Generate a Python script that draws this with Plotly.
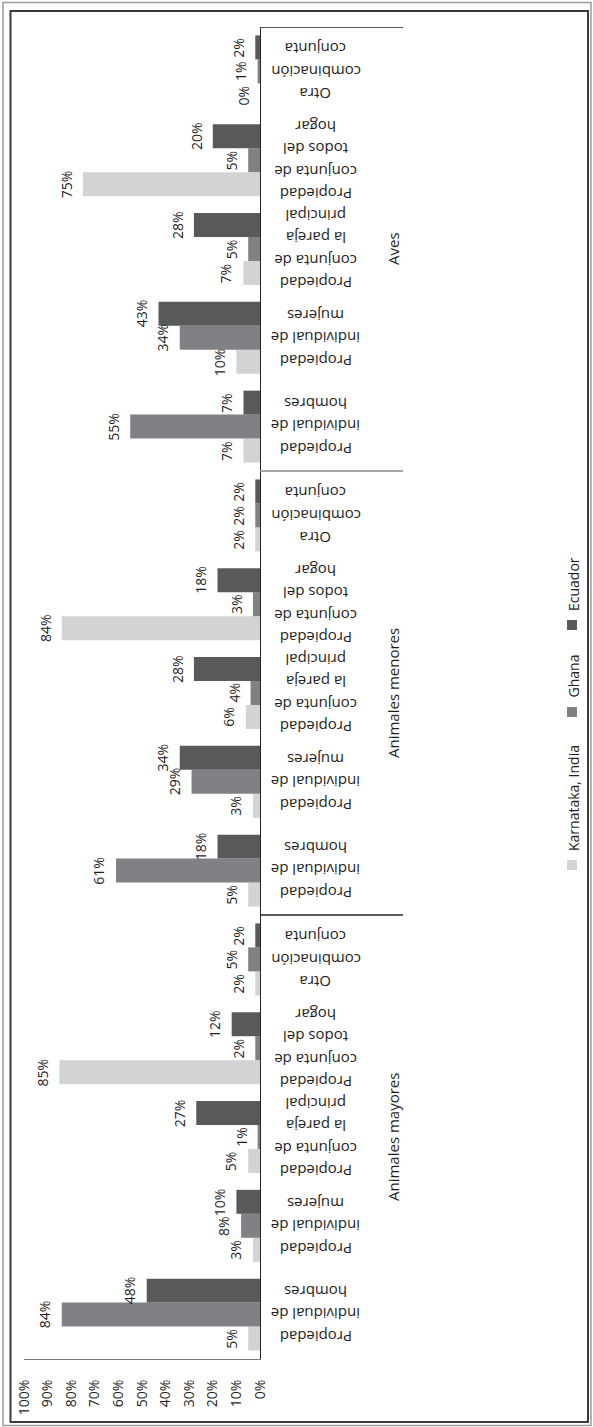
import plotly.graph_objects as go

# ---- data -------------------------------------------------------------
groups = ["Animales mayores", "Animales menores", "Aves"]
category_lines = [
    ["Propiedad", "individual de", "hombres"],
    ["Propiedad", "individual de", "mujeres"],
    ["Propiedad", "conjunta de", "la pareja", "principal"],
    ["Propiedad", "conjunta de", "todos del", "hogar"],
    ["Otra", "combinación", "conjunta"],
]
series_names = ["Karnataka, India", "Ghana", "Ecuador"]
karnataka = [5, 3, 5, 85, 2, 5, 3, 6, 84, 2, 7, 10, 7, 75, 0]
ghana = [84, 8, 1, 2, 5, 61, 29, 4, 3, 2, 55, 34, 5, 5, 1]
ecuador = [48, 10, 27, 12, 2, 18, 34, 28, 18, 2, 7, 43, 28, 20, 2]
tick_values = [0, 10, 20, 30, 40, 50, 60, 70, 80, 90, 100]
tick_labels = ["0%", "10%", "20%", "30%", "40%", "50%", "60%", "70%", "80%", "90%", "100%"]

# ---- styling ----------------------------------------------------------
colors = ["#d2d3d5", "#808184", "#58595b"]
FONT = "Open Sans"
TXT = "#1e1e1e"
W, H = 593, 1427
L, R, T, B = 24, 333, 27, 68
PW = W - L - R
PH = H - T - B
BARGAP = 0.19


def px_x(px):
    return (px - L) / PW


def px_y(py):
    return (H - B - py) / PH


n_cat = len(category_lines)
positions = list(range(len(groups) * n_cat))
series = [karnataka, ghana, ecuador]

fig = go.Figure()
for name, vals, col in zip(series_names, series, colors):
    fig.add_trace(go.Bar(
        name=name, x=vals, y=positions, orientation="h",
        marker=dict(color=col, line=dict(width=0)),
        hoverinfo="x+y",
    ))

annotations = []
# value labels at the bar ends, rotated
bar_w = (1 - BARGAP) / len(series)
for k, vals in enumerate(series):
    off = (k - (len(series) - 1) / 2) * bar_w
    for p, v in zip(positions, vals):
        annotations.append(dict(
            x=v, y=p + off, xref="x", yref="y", text=f"{v}%",
            textangle=-90, showarrow=False, xanchor="center", yanchor="middle",
            xshift=-17, font=dict(family=FONT, size=14, color=TXT),
        ))

# category labels, upside down, one line at a time
LINE = 22.5
for g in range(len(groups)):
    for c, lines in enumerate(category_lines):
        p = g * n_cat + c
        n = len(lines)
        for k, line in enumerate(lines):
            annotations.append(dict(
                x=px_x(316), y=p, xref="paper", yref="y", text=line,
                textangle=180, showarrow=False, xanchor="center", yanchor="middle",
                yshift=(k - (n - 1) / 2) * LINE,
                font=dict(family=FONT, size=15, color=TXT),
            ))

# group labels
for g, name in enumerate(groups):
    annotations.append(dict(
        x=px_x(393), y=g * n_cat + (n_cat - 1) / 2, xref="paper", yref="y",
        text=name, textangle=-90, showarrow=False,
        xanchor="center", yanchor="middle",
        font=dict(family=FONT, size=15, color=TXT),
    ))

# legend (rotated): text bottom edge and swatch position in pixels
legend_text_bottom = [853, 700, 613]
legend_swatch_top = [860, 707, 620]
shapes = []
for name, col, tb, st in zip(series_names, colors, legend_text_bottom, legend_swatch_top):
    annotations.append(dict(
        x=px_x(573), y=px_y(tb), xref="paper", yref="paper", text=name,
        textangle=-90, showarrow=False, xanchor="center", yanchor="bottom",
        font=dict(family=FONT, size=14, color=TXT),
    ))
    shapes.append(dict(
        type="rect", xref="paper", yref="paper",
        x0=px_x(567), x1=px_x(577), y0=px_y(st), y1=px_y(st + 10),
        fillcolor=col, line=dict(width=0),
    ))

# group separators on the category side
for yv, col in [(n_cat - 0.5, "#262626"), (2 * n_cat - 0.5, "#8a8a8a"), (3 * n_cat - 0.5, "#262626")]:
    shapes.append(dict(
        type="line", xref="paper", yref="y", x0=1, x1=px_x(403), y0=yv, y1=yv,
        line=dict(color=col, width=1.3),
    ))

# outer frames
shapes.append(dict(type="rect", xref="paper", yref="paper",
                   x0=px_x(3), x1=px_x(591), y0=px_y(1425.5), y1=px_y(2.5),
                   line=dict(color="#9a9a9a", width=1.5), fillcolor="rgba(0,0,0,0)", layer="below"))
shapes.append(dict(type="rect", xref="paper", yref="paper",
                   x0=px_x(10.5), x1=px_x(588), y0=px_y(1422), y1=px_y(11),
                   line=dict(color="#3a3a3a", width=2), fillcolor="rgba(0,0,0,0)", layer="below"))

fig.update_layout(
    width=W, height=H, autosize=False,
    margin=dict(l=L, r=R, t=T, b=B, pad=0),
    paper_bgcolor="white", plot_bgcolor="white",
    barmode="group", bargap=BARGAP, bargroupgap=0,
    showlegend=False,
    font=dict(family=FONT, size=14, color=TXT),
    annotations=annotations, shapes=shapes,
    xaxis=dict(
        range=[100, 0], tickvals=tick_values, ticktext=tick_labels,
        tickangle=-90, ticks="", showgrid=False, zeroline=False,
        showline=True, linecolor="#7a7a7a", linewidth=1.3,
        tickfont=dict(family=FONT, size=14, color=TXT),
        ticklabelstandoff=14, fixedrange=True,
    ),
    yaxis=dict(
        range=[-0.5, len(positions) - 0.5], side="right",
        showticklabels=False, ticks="", showgrid=False, zeroline=False,
        showline=True, linecolor="#262626", linewidth=1.3, fixedrange=True,
    ),
)

fig.write_html("out.html")
